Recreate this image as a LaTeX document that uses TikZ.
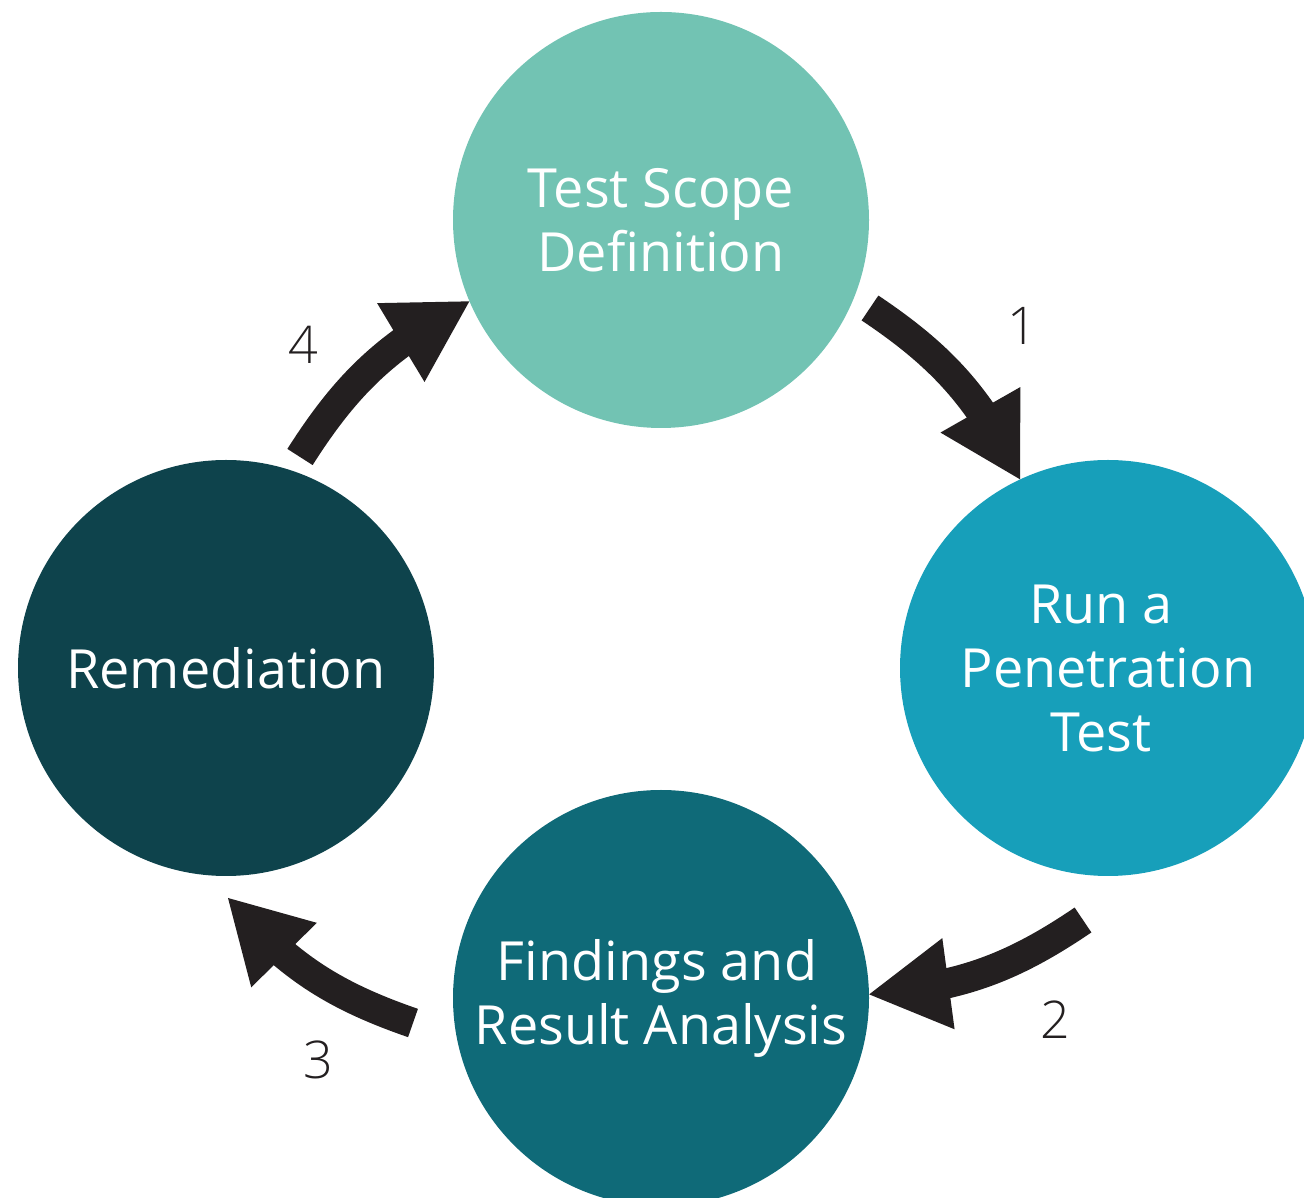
\documentclass[tikz,border=0pt]{standalone}
\usepackage{fontspec}
\setmainfont{Open Sans}
\newfontfamily\numfont{Open Sans Light}
\usepackage{xcolor}
\usepackage{tikz}
\usetikzlibrary{arrows.meta}
\usetikzlibrary{bending}
\usetikzlibrary{positioning}
\definecolor{scopeteal}{HTML}{72C3B3}
\definecolor{runblue}{HTML}{179FBA}
\definecolor{findteal}{HTML}{0F6A78}
\definecolor{remdark}{HTML}{0E434C}
\definecolor{arrowblack}{HTML}{231F20}
\tikzset{stage/.style ={circle, minimum size=416pt, inner sep=0pt, text=white, align=center, font=\fontsize{54}{64}\selectfont}}
\tikzset{cyclearrow/.style ={draw=arrowblack, line width=30pt, -{Triangle[length=80pt,width=92pt,line width=0pt]}, bend left=15}}
\tikzset{numlabel/.style ={text=arrowblack, font=\numfont\fontsize{52}{60}\selectfont}}

\begin{document}
\begin{tikzpicture}[x=1pt,y=1pt]
{
\useasboundingbox (0,0) rectangle (1304,1197);
\clip (0,0) rectangle (1304,1197);
\node[stage, fill=scopeteal] (scope) at (661,977) {Test Scope\\Definition};
\node[stage, fill=runblue] (pentest) at (1108,529) {Run a\hspace*{14pt}\\Penetration\hspace*{14pt}\\Test\hspace*{14pt}};
\node[stage, fill=findteal] (findings) at (661,199) {Findings and\hspace*{8pt}\\Result Analysis};
\node[stage, fill=remdark] (remedy) at (226,529) {Remediation};
%free ends of the arrows
\coordinate (a1) at (870,889);
\coordinate (a2) at (1083,277);
\coordinate (a3) at (413,174);
\coordinate (a3e) at (228,299);
\coordinate (a4) at (300,740);
\draw[cyclearrow] (a1) to (pentest.115);
\draw[cyclearrow] (a2) to (findings.1);
\draw[cyclearrow] (a3) to (a3e);
\draw[cyclearrow] (a4) to (scope.203);
\node[numlabel] (n1) at (1022,871) {1};
\node[numlabel] (n2) at (1055,177) {2};
\node[numlabel] (n3) at (318,137) {3};
\node[numlabel] (n4) at (303,852) {4};
}
\end{tikzpicture}
\end{document}
